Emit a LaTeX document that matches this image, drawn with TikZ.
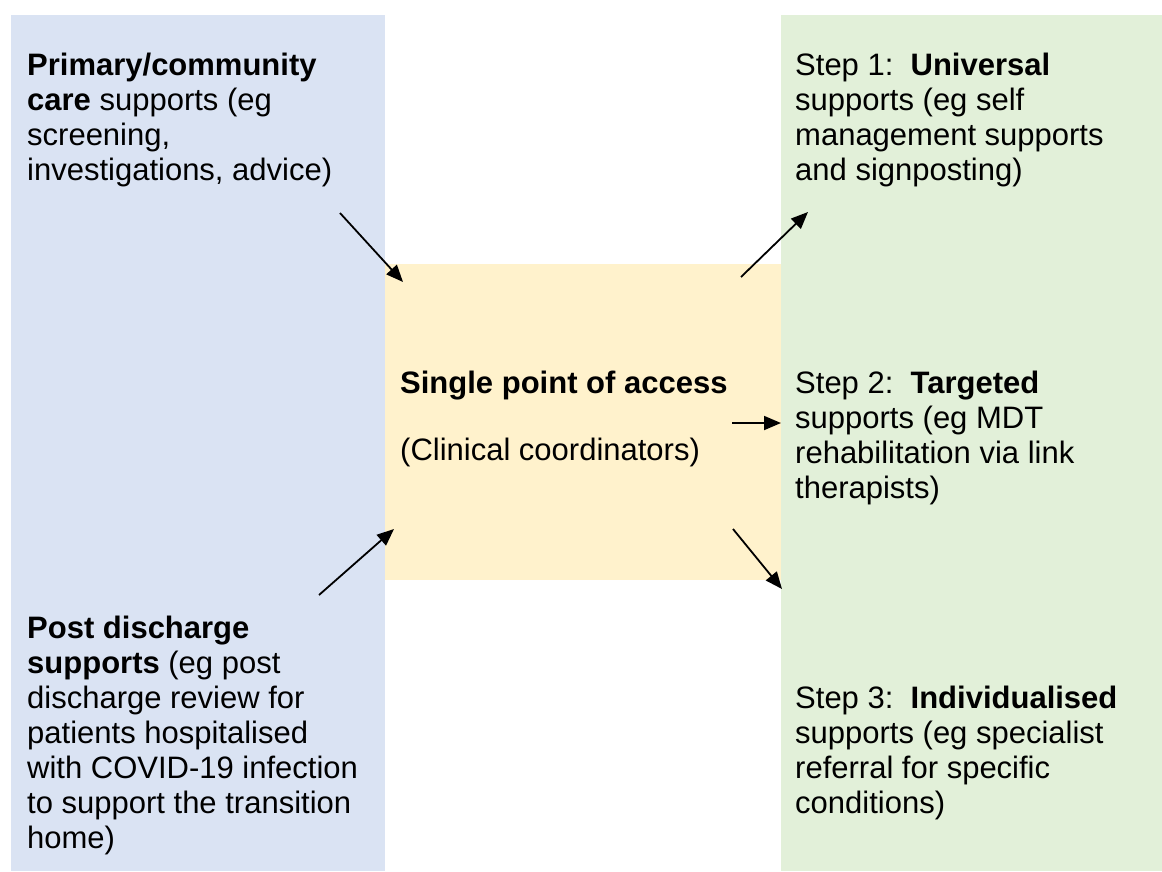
\documentclass[tikz,border=0pt]{standalone}
\usepackage{fontspec}
\setmainfont{Liberation Sans}
\usetikzlibrary{arrows.meta}

\definecolor{panelblue}{HTML}{DAE3F3}
\definecolor{panelyellow}{HTML}{FFF2CC}
\definecolor{panelgreen}{HTML}{E2F0D9}

\tikzset{
  blocktext/.style={anchor=base west, inner sep=0pt, align=left,
    font=\fontsize{31}{35}\selectfont},
  flow/.style={line width=1.8pt, -{Triangle[length=17pt,width=14pt]}}
}

\begin{document}
\begin{tikzpicture}[x=1pt, y=-1pt]
  % page frame
  \useasboundingbox (0,0) rectangle (1162,871);

  % coloured panels
  \fill[panelblue]   (11,15)   rectangle (385,871);
  \fill[panelgreen]  (781,15)  rectangle (1162,871);
  \fill[panelyellow] (385,264) rectangle (781,580);

  % text blocks are placed by the baseline of their last line
  % referral sources (left)
  \node[blocktext] (primary) at (27,180)
    {\textbf{Primary/community}\\
     \textbf{care} supports (eg\\
     screening,\\
     investigations, advice)};
  \node[blocktext] (post) at (27,848)
    {\textbf{Post discharge}\\
     \textbf{supports} (eg post\\
     discharge review for\\
     patients hospitalised\\
     with COVID-19 infection\\
     to support the transition\\
     home)};

  % single point of access (centre)
  \node[blocktext] (spa) at (400,393) {\textbf{Single point of access}};
  \node[blocktext] (coord) at (400,460) {(Clinical coordinators)};

  % stepped supports (right)
  \node[blocktext] (step1) at (795,180)
    {Step 1:\ \ \textbf{Universal}\\
     supports (eg self\\
     management supports\\
     and signposting)};
  \node[blocktext] (step2) at (795,498)
    {Step 2:\ \ \textbf{Targeted}\\
     supports (eg MDT\\
     rehabilitation via link\\
     therapists)};
  \node[blocktext] (step3) at (795,813)
    {Step 3:\ \ \textbf{Individualised}\\
     supports (eg specialist\\
     referral for specific\\
     conditions)};

  % arrow end points
  \coordinate (inA0)  at (340,213);
  \coordinate (inA1)  at (403,282);
  \coordinate (inB0)  at (319,595);
  \coordinate (inB1)  at (394,529);
  \coordinate (out10) at (741,277);
  \coordinate (out11) at (808,212);
  \coordinate (out20) at (732,423);
  \coordinate (out21) at (781,423);
  \coordinate (out30) at (733,529);
  \coordinate (out31) at (782,589);

  % flows into and out of the single point of access
  \draw[flow] (inA0)  -- (inA1);
  \draw[flow] (inB0)  -- (inB1);
  \draw[flow] (out10) -- (out11);
  \draw[flow] (out20) -- (out21);
  \draw[flow] (out30) -- (out31);
\end{tikzpicture}
\end{document}
